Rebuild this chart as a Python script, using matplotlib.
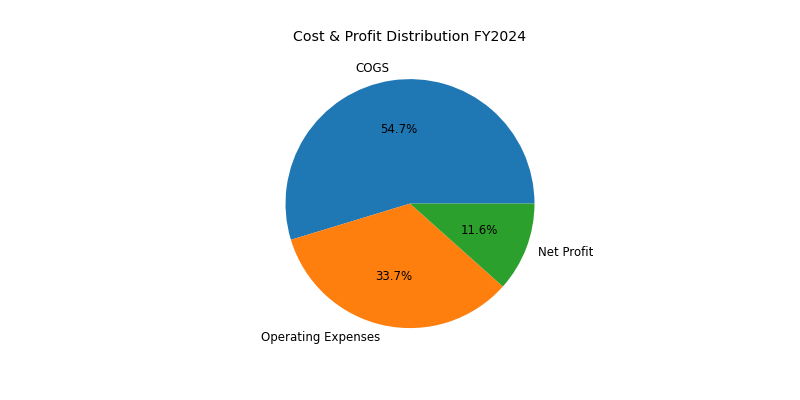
import matplotlib
matplotlib.use("Agg")
import matplotlib.pyplot as plt

# Cost & profit shares (percent of revenue)
labels = ['COGS', 'Operating Expenses', 'Net Profit']
shares = [54.7, 33.7, 11.6]

# smaller text relative to the canvas, like the reference
dpi = 85
fig, ax = plt.subplots(figsize=(800 / dpi, 400 / dpi), dpi=dpi)
fig.subplots_adjust(bottom=0.102, top=0.88)
ax.pie(shares, labels=labels, autopct='%1.1f%%')
ax.set_title('Cost & Profit Distribution FY2024')

plt.savefig('out.png', dpi=dpi)
